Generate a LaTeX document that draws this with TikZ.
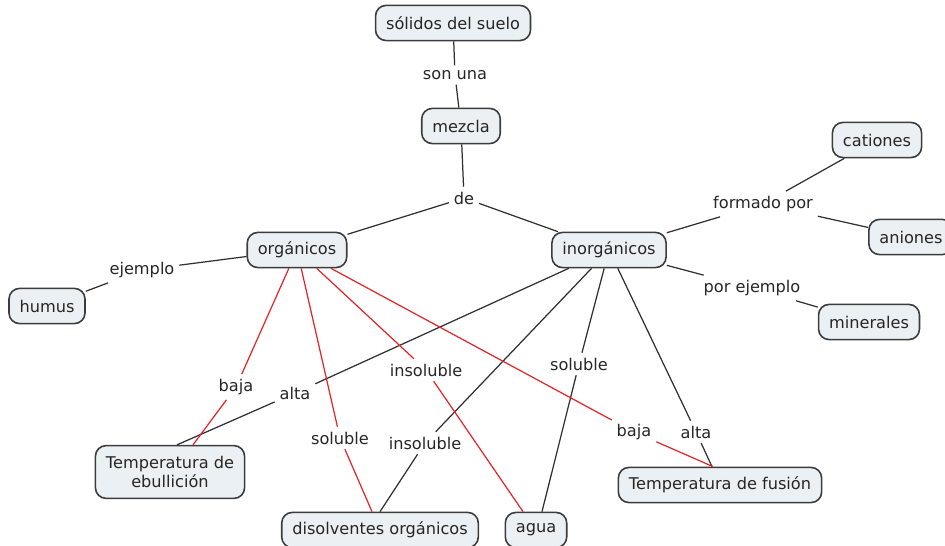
\documentclass[tikz,border=0pt]{standalone}
\usepackage{fontspec}
\setmainfont{DejaVu Sans}
\usetikzlibrary{calc}
\definecolor{boxfill}{HTML}{EAF0F4}
\definecolor{boxline}{HTML}{3C3C3C}
\definecolor{linkred}{HTML}{E5252A}
\definecolor{linkgray}{HTML}{303030}
\tikzset{
    every node/.style={font=\fontsize{9.2}{11}\selectfont, text=black!85}
}

\begin{document}
\begin{tikzpicture}[
        x=0.02cm, y=-0.02cm,
        line width=0.7pt,
        concept/.style={rectangle, rounded corners=6pt, draw=boxline, fill=boxfill,
            line width=0.9pt, inner xsep=6pt, minimum height=20pt, align=center},
        linkword/.style={inner sep=2.5pt},
        blk/.style={draw=linkgray},
        rd/.style={draw=linkred}
    ]
    \useasboundingbox (0,0) rectangle (945,546);

    % Concepts
    \node[concept] (solidos)  at (453,23)  {sólidos del suelo};
    \node[concept] (mezcla)   at (461,126) {mezcla};
    \node[concept] (organ)    at (297,250) {orgánicos};
    \node[concept] (inorgan)  at (609,250) {inorgánicos};
    \node[concept] (cationes) at (877,140) {cationes};
    \node[concept] (aniones)  at (911,237) {aniones};
    \node[concept] (humus)    at (47,306)  {humus};
    \node[concept] (minerales) at (869,322) {minerales};
    \node[concept, minimum height=30pt] (ebul) at (170,472) {Temperatura de\\ebullición};
    \node[concept] (disolv)   at (380,530) {disolventes orgánicos};
    \node[concept] (agua)     at (536,530) {agua};
    \node[concept] (fusion)   at (720,485) {Temperatura de fusión};

    % Linking words
    \node[linkword] (sonuna)   at (455,75)  {son una};
    \node[linkword] (de)       at (464,198) {de};
    \node[linkword] (ejemplo)  at (142,270) {ejemplo};
    \node[linkword] (formado)  at (763,204) {formado por};
    \node[linkword] (porej)    at (752,288) {por ejemplo};
    \node[linkword] (bajaE)    at (236,387) {baja};
    \node[linkword] (altaE)    at (295,393) {alta};
    \node[linkword] (insolA)   at (426,370) {insoluble};
    \node[linkword] (solD)     at (340,438) {soluble};
    \node[linkword] (insolD)   at (425,443) {insoluble};
    \node[linkword] (solA)     at (579,364) {soluble};
    \node[linkword] (bajaF)    at (634,432) {baja};
    \node[linkword] (altaF)    at (696,432) {alta};

    % Black links
    \draw[blk] (solidos) -- (sonuna) -- (mezcla);
    \draw[blk] (mezcla) -- (de);
    \draw[blk] (de) -- (organ);
    \draw[blk] (de) -- (inorgan);
    \draw[blk] (organ) -- (ejemplo) -- (humus);
    \draw[blk] (inorgan) -- (formado) -- (cationes);
    \draw[blk] (formado) -- (aniones);
    \draw[blk] (inorgan) -- (porej) -- (minerales);
    \draw[blk] (inorgan) -- (altaE) -- ($(ebul.north)+(7,0)$);
    \draw[blk] (inorgan) -- (insolD) -- (disolv.north);
    \draw[blk] (inorgan) -- (solA) -- ($(agua.north)+(6,0)$);
    \draw[blk] (inorgan) -- (altaF) -- ($(fusion.north)+(-8,0)$);

    % Red links
    \draw[rd] (organ) -- (bajaE) -- ($(ebul.north)+(23,0)$);
    \draw[rd] (organ) -- (solD) -- ($(disolv.north)+(-8,0)$);
    \draw[rd] (organ) -- (insolA) -- ($(agua.north)+(-13,0)$);
    \draw[rd] (organ) -- (bajaF) -- ($(fusion.north)+(-7,0)$);
\end{tikzpicture}
\end{document}
